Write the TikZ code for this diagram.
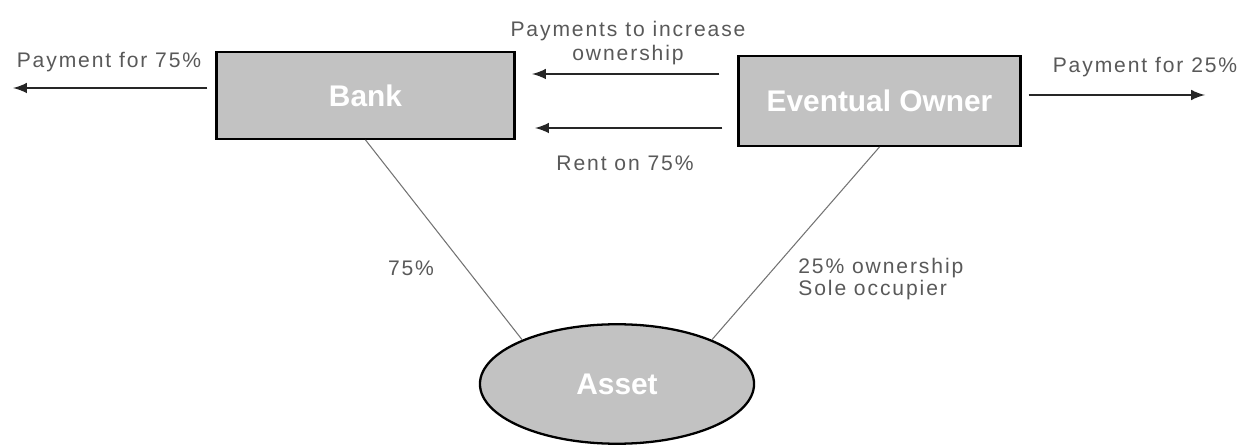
\documentclass[tikz,border=0pt]{standalone}
\usepackage{fontspec}
\setmainfont{Liberation Sans}
\newfontfamily\spacedfont[LetterSpace=9]{Liberation Sans}
\usepackage{tikz}
\usetikzlibrary{arrows}
\usetikzlibrary{shapes.geometric}

\tikzset{
  party/.style={draw=black,line width=1.3pt,fill=black!24,text=white,
    font=\bfseries\fontsize{17}{20}\selectfont,inner sep=0pt},
  flow/.style={->,>=latex,line width=1.7pt,black!85},
  share/.style={line width=0.6pt,black!55},
  lbl/.style={text=black!65,font=\spacedfont\fontsize{12}{15}\selectfont,inner sep=0pt}
}

\begin{document}
\begin{tikzpicture}[x=0.02cm,y=-0.02cm]
    \useasboundingbox (0,0) rectangle (1256,445);
    %% parties
    \node [party,minimum width=169.5pt,minimum height=49.3pt] (bank) at (365.5,95.5) {Bank};
    \node [party,minimum width=160.4pt,minimum height=51pt] (owner) at (879.5,101) {Eventual Owner};
    \node [party,ellipse,minimum width=156pt,minimum height=68pt] (asset) at (617,384) {Asset};
    %% payments out
    \coordinate (lout) at (13,88);
    \draw [flow] (bank.west |- lout) ++(-8,0) -- (lout);
    \node [lbl] (lpay) at (109,62) {Payment for 75\%};
    \coordinate (rout) at (1205,95);
    \draw [flow] (owner.east |- rout) ++(7,0) -- (rout);
    \node [lbl] (rpay) at (1145,67) {Payment for 25\%};
    %% owner to bank
    \coordinate (inc) at (532,74);
    \draw [flow] (owner.west |- inc) ++(-18,0) -- (inc);
    \node [lbl,align=center] (inclbl) at (628,43) {Payments to increase\\[-1pt]ownership};
    \coordinate (rent) at (535,128);
    \draw [flow] (owner.west |- rent) ++(-15,0) -- (rent);
    \node [lbl] (rentlbl) at (625,163) {Rent on 75\%};
    %% shares in the asset
    \draw [share] (bank.south) -- (asset.155);
    \draw [share] (owner.south) -- (asset.25);
    \node [lbl] (bshare) at (411,268) {75\%};
    \node [lbl,align=left,anchor=west] (oshare) at (798,279) {25\% ownership\\[-2pt]Sole occupier};
\end{tikzpicture}
\end{document}
